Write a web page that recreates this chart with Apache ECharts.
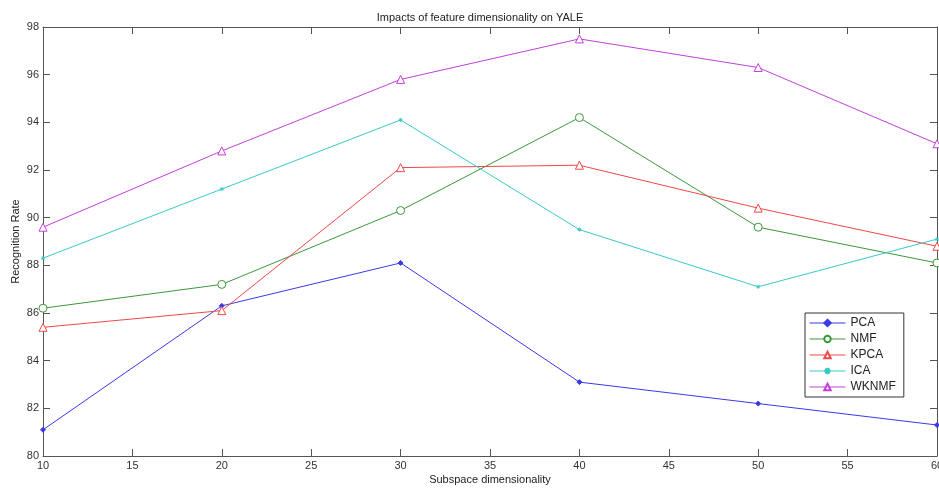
<!DOCTYPE html>
<html>
<head>
<meta charset="utf-8">
<script src="https://cdn.jsdelivr.net/npm/echarts@6/dist/echarts.min.js"></script>
<style>
html,body{margin:0;padding:0;background:#fff;}
#chart{width:939px;height:488px;}
</style>
</head>
<body>
<div id="chart"></div>
<script>
const dims = [10, 20, 30, 40, 50, 60];
const pca   = [81.1, 86.3, 88.1, 83.1, 82.2, 81.3];
const nmf   = [86.2, 87.2, 90.3, 94.2, 89.6, 88.1];
const kpca  = [85.4, 86.1, 92.1, 92.2, 90.4, 88.8];
const ica   = [88.3, 91.2, 94.1, 89.5, 87.1, 89.1];
const wknmf = [89.6, 92.8, 95.8, 97.5, 96.3, 93.1];
const seriesNames = ['PCA', 'NMF', 'KPCA', 'ICA', 'WKNMF'];
const xTicks = [10, 15, 20, 25, 30, 35, 40, 45, 50, 55, 60];
const yTicks = [80, 82, 84, 86, 88, 90, 92, 94, 96, 98];

const pair = arr => dims.map((d, i) => [d, arr[i]]);
const FONT = 'Liberation Sans, Arial, sans-serif';
const plusPath = 'path://M5,0 L5,10 M0,5 L10,5 M1.5,1.5 L8.5,8.5 M8.5,1.5 L1.5,8.5';

function mk(name, data, color, symbol, size, filled) {
  return {
    name, type: 'line', data: pair(data),
    symbol, symbolSize: size,
    lineStyle: { color, width: 1 },
    itemStyle: { color: filled ? color : '#fff', borderColor: color, borderWidth: 1 },
    emphasis: { disabled: true },
    animation: false
  };
}

const chart = echarts.init(document.getElementById('chart'), null, { renderer: 'canvas' });
const axisLine = { lineStyle: { color: '#555', width: 1 } };
chart.setOption({
  backgroundColor: '#fff',
  animation: false,
  title: {
    text: 'Impacts of feature dimensionality on YALE',
    left: 475, top: 7, textAlign: 'center',
    textStyle: { fontFamily: FONT, fontSize: 11, fontWeight: 'normal', color: '#222' }
  },
  legend: {
    orient: 'vertical', left: 805, top: 313,
    data: seriesNames,
    itemWidth: 36, itemHeight: 8, itemGap: 4,
    padding: [4, 8, 4, 4],
    borderColor: '#333', borderWidth: 1, backgroundColor: '#fff',
    lineStyle: { width: 1 },
    textStyle: { fontFamily: FONT, fontSize: 12, color: '#222' }
  },
  grid: { left: 43, right: 2, top: 27, bottom: 32, containLabel: false, outerBoundsMode: 'none' },
  xAxis: [{
    type: 'value', min: 10, max: 60, interval: 5,
    name: 'Subspace dimensionality', nameLocation: 'middle', nameGap: 18, nameMoveOverlap: false,
    nameTextStyle: { fontFamily: FONT, fontSize: 11, color: '#222' },
    axisLine, splitLine: { show: false },
    axisTick: { inside: true, length: 7, lineStyle: { color: '#555' } },
    axisLabel: { fontFamily: FONT, fontSize: 11, color: '#333', margin: 4,
      formatter: v => xTicks.includes(v) ? String(v) : '' }
  }, {
    type: 'value', min: 10, max: 60, interval: 5, position: 'top',
    axisLine, splitLine: { show: false },
    axisTick: { inside: true, length: 7, lineStyle: { color: '#555' } },
    axisLabel: { show: false }
  }],
  yAxis: [{
    type: 'value', min: 80, max: 98, interval: 2,
    name: 'Recognition Rate', nameLocation: 'middle', nameGap: 22, nameRotate: 90, nameMoveOverlap: false,
    nameTextStyle: { fontFamily: FONT, fontSize: 11, color: '#222' },
    axisLine, splitLine: { show: false },
    axisTick: { inside: true, length: 7, lineStyle: { color: '#555' } },
    axisLabel: { fontFamily: FONT, fontSize: 11, color: '#333', margin: 4,
      formatter: v => yTicks.includes(v) ? String(v) : '' }
  }, {
    type: 'value', min: 80, max: 98, interval: 2, position: 'right',
    axisLine, splitLine: { show: false },
    axisTick: { inside: true, length: 7, lineStyle: { color: '#555' } },
    axisLabel: { show: false }
  }],
  series: [
    mk('PCA', pca, '#3a3ae8', 'diamond', 5, true),
    mk('NMF', nmf, '#3a993a', 'circle', 8, false),
    mk('KPCA', kpca, '#f04848', 'triangle', 8, false),
    mk('ICA', ica, '#3cc8c8', plusPath, 4, false),
    mk('WKNMF', wknmf, '#c040d8', 'triangle', 8, false)
  ]
});
</script>
</body>
</html>
